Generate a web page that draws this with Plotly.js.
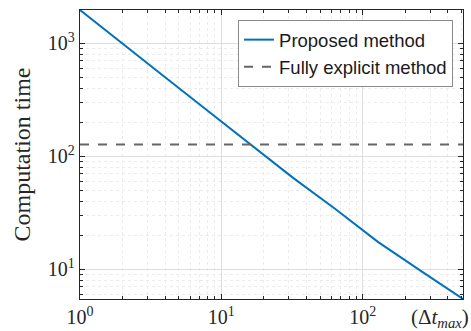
<!DOCTYPE html>
<html>
<head>
<meta charset="utf-8">
<script src="https://cdn.plot.ly/plotly-3.0.1.min.js"></script>
<style>html,body{margin:0;padding:0;background:#fff}#chart{width:471px;height:331px}</style>
</head>
<body>
<div id="chart"></div>
<script>
// Data
const dtMax = [1, 2, 4, 8, 16, 32, 64, 128, 256, 512];
const proposedTime = [1970, 1000, 500, 252, 128, 64.5, 34, 17.4, 9.7, 5.43];
const explicitTime = [127, 127];
const explicitX = [1, 512];
const xTickVals = [1, 10, 100];
const xTickText = ['10<sup>0</sup>', '10<sup>1</sup>', '10<sup>2</sup>'];
const yTickVals = [10, 100, 1000];
const yTickText = ['10<sup>1</sup>', '10<sup>2</sup>', '10<sup>3</sup>'];

const tickFont = {family: 'Liberation Serif, serif', size: 20, color: '#262626'};

const traces = [
  {x: dtMax, y: proposedTime, type: 'scatter', mode: 'lines', name: 'Proposed method',
   line: {color: '#0072BD', width: 2}},
  {x: explicitX, y: explicitTime, type: 'scatter', mode: 'lines', name: 'Fully explicit method',
   line: {color: '#666666', width: 2, dash: 'dash'}}
];

const axisCommon = {
  type: 'log', showline: true, linecolor: '#262626', linewidth: 1.3, mirror: 'allticks',
  ticks: 'inside', ticklen: 5, tickcolor: '#262626', tickwidth: 1,
  showgrid: true, gridcolor: '#dedede', gridwidth: 1, zeroline: false,
  tickfont: tickFont,
  minor: {dtick: 'D1', ticks: 'inside', ticklen: 3, tickcolor: '#262626', showgrid: true,
          gridcolor: '#ececec', griddash: 'dot', gridwidth: 1}
};

const layout = {
  width: 471, height: 331,
  margin: {l: 80, r: 8, t: 10, b: 32},
  paper_bgcolor: '#fff', plot_bgcolor: '#fff',
  showlegend: true,
  legend: {x: 0.974, y: 0.965, xanchor: 'right', yanchor: 'top',
           bgcolor: '#fff', bordercolor: '#8a8a8a', borderwidth: 1,
           font: {family: 'Liberation Sans, Arial, sans-serif', size: 18.5, color: '#1a1a1a'},
           tracegroupgap: 0, itemwidth: 30},
  xaxis: Object.assign({}, axisCommon, {
    range: [0, Math.log10(512)], tickvals: xTickVals, ticktext: xTickText,
    title: {text: ''}
  }),
  yaxis: Object.assign({}, axisCommon, {
    range: [Math.log10(5.43), Math.log10(1970)], tickvals: yTickVals, ticktext: yTickText,
    title: {text: 'Computation time', font: {family: 'Liberation Serif, serif', size: 24, color: '#262626'}, standoff: 10}
  }),
  annotations: [
    {xref: 'paper', yref: 'paper', x: 1.02, y: 0, xanchor: 'right', yanchor: 'top', yshift: -4,
     showarrow: false, text: '(Δ<i>t</i><sub><i>max</i></sub>)',
     font: {family: 'Liberation Serif, serif', size: 21, color: '#262626'}}
  ]
};

Plotly.newPlot('chart', traces, layout, {displayModeBar: false, staticPlot: true});
</script>
</body>
</html>
